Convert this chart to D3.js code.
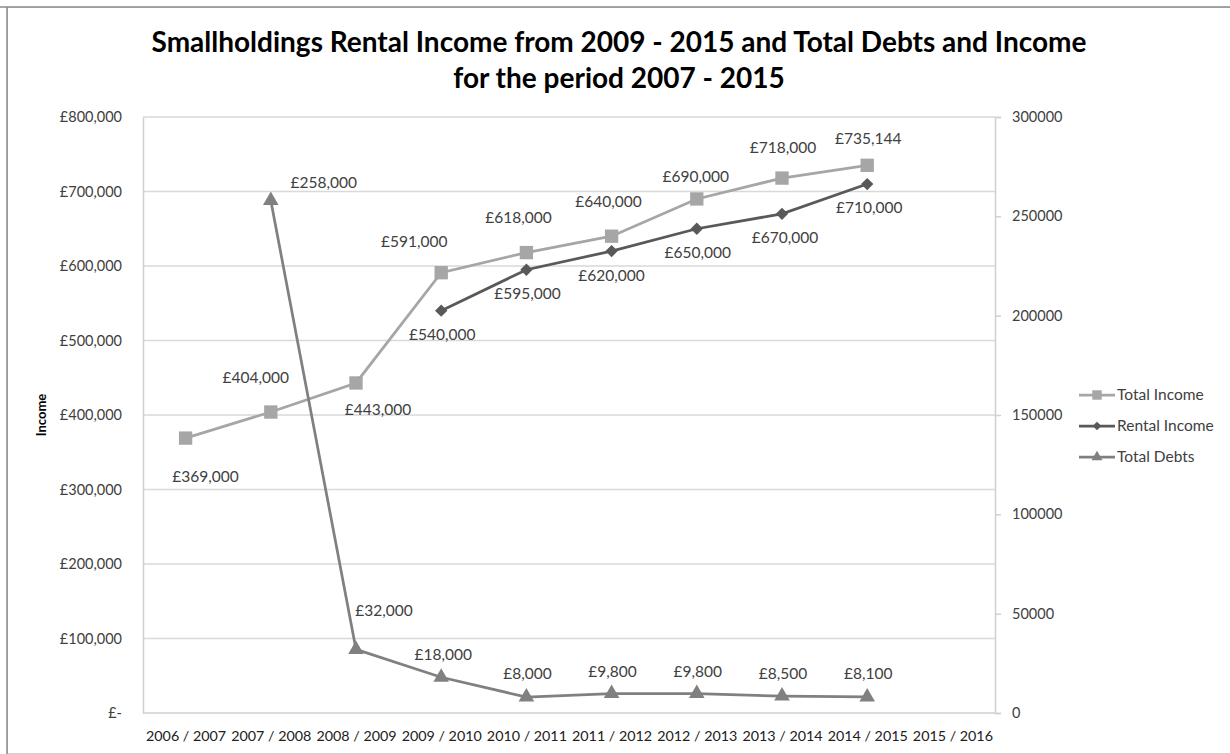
<!DOCTYPE html>
<html>
<head>
<meta charset="utf-8">
<script src="https://cdn.jsdelivr.net/npm/d3@7"></script>
<style>
  body { margin: 0; background: #fff; }
  text { font-family: Lato, "Open Sans", sans-serif; }
</style>
</head>
<body>
<div id="chart"></div>
<script>
const years = ["2006 / 2007", "2007 / 2008", "2008 / 2009", "2009 / 2010", "2010 / 2011",
  "2011 / 2012", "2012 / 2013", "2013 / 2014", "2014 / 2015", "2015 / 2016"];

const totalIncome = [369000, 404000, 443000, 591000, 618000, 640000, 690000, 718000, 735144, null];
const rentalIncome = [null, null, null, 540000, 595000, 620000, 650000, 670000, 710000, null];
const totalDebts = [null, 258000, 32000, 18000, 8000, 9800, 9800, 8500, 8100, null];

const leftTicks = [0, 100000, 200000, 300000, 400000, 500000, 600000, 700000, 800000];
const rightTicks = [0, 50000, 100000, 150000, 200000, 250000, 300000];

// label offsets (dx, dy to baseline) from each point, roughly where Excel put them
const incomeLabelOff = [[20, 44], [-15, -29], [22, 32], [-27, -26], [-8, -30], [-3, -29], [-1, -17], [1, -25], [1, -21]];
const rentalLabelOff = [null, null, null, [1, 29], [1, 29], [0, 30], [1, 29], [3, 29], [2, 29]];
const debtLabelOff = [null, [53, -12], [28, -33], [2, -17], [1, -18], [1, -17], [1, -17], [1, -17], [1, -18]];

const W = 1230, H = 754;
const margin = { top: 117, right: 235, bottom: 41, left: 143 };

const svg = d3.select("#chart").append("svg")
  .attr("width", W).attr("height", H);

// outer chart border
svg.append("rect")
  .attr("x", 7.5).attr("y", 7.5)
  .attr("width", W).attr("height", H - 8)
  .attr("fill", "none").attr("stroke", "#d0d0d0").attr("stroke-width", 1);
svg.append("line").attr("x1", 0).attr("x2", W).attr("y1", 7).attr("y2", 7)
  .attr("stroke", "#8a8a8a").attr("stroke-width", 1.5);
svg.append("line").attr("x1", 7).attr("x2", 7).attr("y1", 7).attr("y2", H)
  .attr("stroke", "#8a8a8a").attr("stroke-width", 1.5);

const x = d3.scalePoint()
  .domain(years)
  .range([margin.left, W - margin.right])
  .padding(0.5);

const yL = d3.scaleLinear().domain([0, 800000]).range([H - margin.bottom, margin.top]);
const yR = d3.scaleLinear().domain([0, 300000]).range([H - margin.bottom, margin.top]);

// gridlines
svg.append("g").selectAll("line")
  .data(leftTicks.slice(1))
  .join("line")
  .attr("x1", margin.left).attr("x2", W - margin.right)
  .attr("y1", d => yL(d)).attr("y2", d => yL(d))
  .attr("stroke", "#d9d9d9").attr("stroke-width", 1.5);

// left axis
const fmtPound = v => v === 0 ? "£-" : "£" + d3.format(",")(v);
const gL = svg.append("g")
  .attr("transform", `translate(${margin.left},0)`)
  .call(d3.axisLeft(yL).tickValues(leftTicks).tickFormat(fmtPound).tickSize(0).tickPadding(21));
gL.select(".domain").attr("stroke", "#d0d0d0").attr("stroke-width", 1.5);
gL.selectAll("text").attr("font-size", 14.5).attr("fill", "#404040").style("font-family", "Lato, sans-serif");

// right axis
const gR = svg.append("g")
  .attr("transform", `translate(${W - margin.right},0)`)
  .call(d3.axisRight(yR).tickValues(rightTicks).tickFormat(d3.format("d")).tickSize(6).tickPadding(11));
gR.select(".domain").attr("stroke", "#d0d0d0").attr("stroke-width", 1.5);
gR.selectAll("line").attr("stroke", "#d0d0d0").attr("stroke-width", 1.5);
gR.selectAll("text").attr("font-size", 14.5).attr("fill", "#404040").style("font-family", "Lato, sans-serif");

// bottom axis
const gB = svg.append("g")
  .attr("transform", `translate(0,${H - margin.bottom})`)
  .call(d3.axisBottom(x).tickSize(0).tickPadding(18));
gB.select(".domain").attr("stroke", "#d0d0d0").attr("stroke-width", 1.5)
  .attr("d", `M${margin.left},0H${W - margin.right}`);
gB.selectAll("text").attr("font-size", 14.3).attr("fill", "#202020").style("font-family", "Lato, sans-serif");

// axis title
svg.append("text")
  .attr("transform", `translate(46, ${(margin.top + H - margin.bottom) / 2}) rotate(-90)`)
  .attr("text-anchor", "middle")
  .attr("font-size", 13).attr("font-weight", "bold").attr("fill", "#000")
  .text("Income");

// title
const title = svg.append("text")
  .attr("x", 619).attr("text-anchor", "middle")
  .attr("font-size", 28).attr("font-weight", "bold").attr("fill", "#000");
title.append("tspan").attr("x", 619).attr("y", 52)
  .text("Smallholdings Rental Income from 2009 - 2015 and Total Debts and Income");
title.append("tspan").attr("x", 619).attr("y", 88)
  .text("for the period 2007 - 2015");

const series = [
  { name: "Total Income", values: totalIncome, y: yL, color: "#a6a6a6", symbol: d3.symbolSquare, size: 178, rot: 0, off: incomeLabelOff },
  { name: "Rental Income", values: rentalIncome, y: yL, color: "#595959", symbol: d3.symbolSquare, size: 76, rot: 45, off: rentalLabelOff },
  { name: "Total Debts", values: totalDebts, y: yR, color: "#808080", symbol: d3.symbolTriangle, size: 105, rot: 0, off: debtLabelOff }
];

series.forEach(s => {
  const pts = years.map((yr, i) => ({ yr, v: s.values[i], i })).filter(d => d.v != null);

  const line = d3.line().x(d => x(d.yr)).y(d => s.y(d.v));
  svg.append("path")
    .datum(pts)
    .attr("fill", "none")
    .attr("stroke", s.color)
    .attr("stroke-width", 2.75)
    .attr("d", line);

  svg.append("g").selectAll("path")
    .data(pts)
    .join("path")
    .attr("transform", d => `translate(${x(d.yr)},${s.y(d.v)}) rotate(${s.rot})`)
    .attr("d", d3.symbol(s.symbol, s.size))
    .attr("fill", s.color);

  svg.append("g").selectAll("text")
    .data(pts)
    .join("text")
    .attr("x", d => x(d.yr) + s.off[d.i][0])
    .attr("y", d => s.y(d.v) + s.off[d.i][1])
    .attr("text-anchor", "middle")
    .attr("font-size", 15.5)
    .attr("fill", "#404040")
    .text(d => "£" + d3.format(",")(d.v));
});

// legend
const legend = svg.append("g").attr("transform", "translate(1079, 395)");
series.forEach((s, i) => {
  const item = legend.append("g").attr("transform", `translate(0, ${i * 31})`);
  item.append("line")
    .attr("x1", 0).attr("x2", 36).attr("y1", 0).attr("y2", 0)
    .attr("stroke", s.color).attr("stroke-width", 2.75);
  item.append("path")
    .attr("transform", `translate(18,0) rotate(${s.rot})`)
    .attr("d", d3.symbol(s.symbol, s.size * 0.5))
    .attr("fill", s.color);
  item.append("text")
    .attr("x", 38).attr("y", 5)
    .attr("font-size", 15.5).attr("fill", "#404040")
    .text(s.name);
});
</script>
</body>
</html>
